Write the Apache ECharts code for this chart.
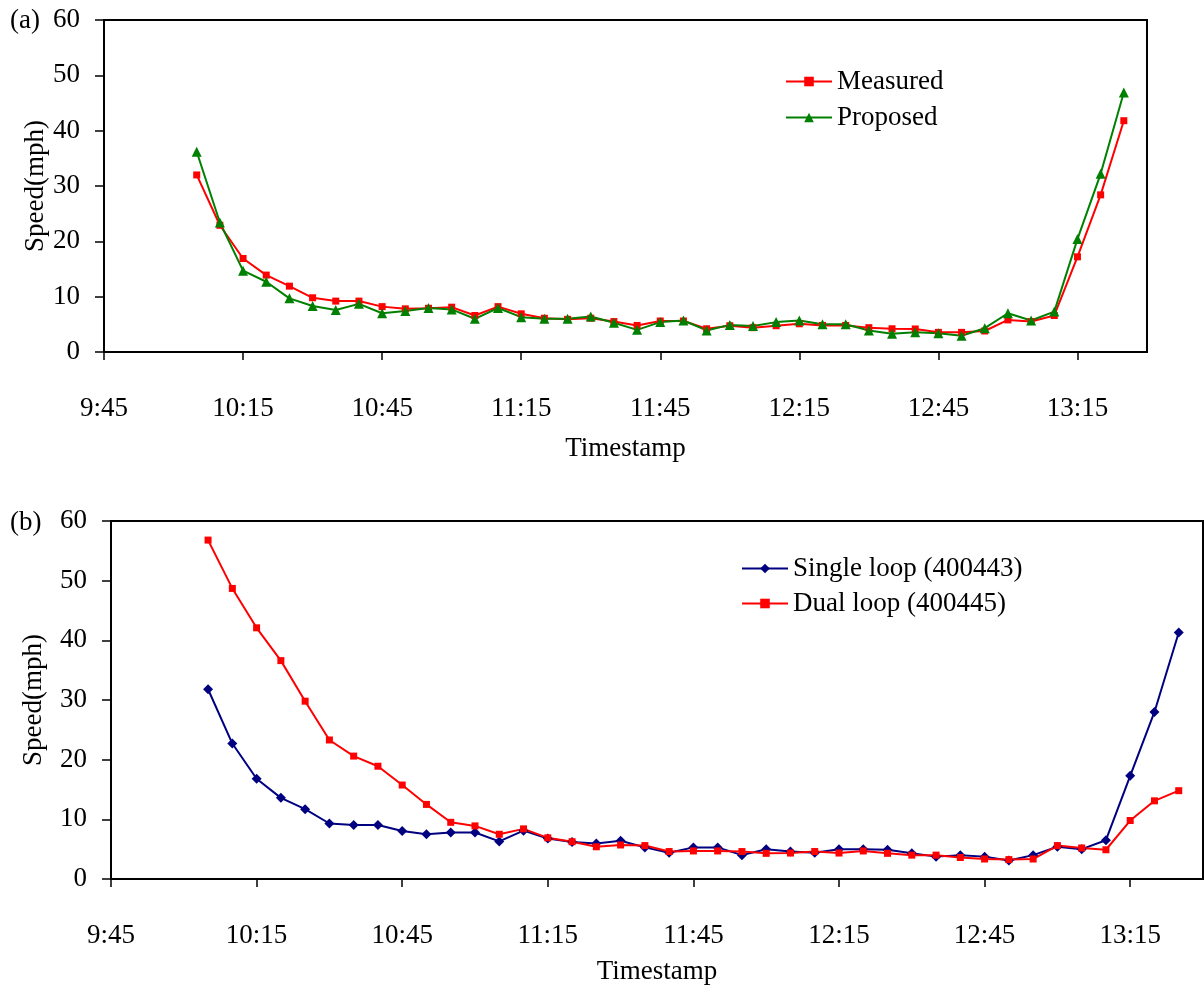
<!DOCTYPE html>
<html><head><meta charset="utf-8">
<script src="https://cdn.jsdelivr.net/npm/echarts@6/dist/echarts.min.js"></script>
<style>html,body{margin:0;padding:0;background:#fff}#c{width:1204px;height:987px}</style>
</head><body><div id="c"></div>
<script>
// ---- data ----
const times = ['10:05','10:10','10:15','10:20','10:25','10:30','10:35','10:40','10:45','10:50','10:55',
  '11:00','11:05','11:10','11:15','11:20','11:25','11:30','11:35','11:40','11:45','11:50','11:55',
  '12:00','12:05','12:10','12:15','12:20','12:25','12:30','12:35','12:40','12:45','12:50','12:55',
  '13:00','13:05','13:10','13:15','13:20','13:25'];
const tickLabels = ['9:45','10:15','10:45','11:15','11:45','12:15','12:45','13:15'];
const axisStart = '9:45';
const axisEnd = '13:30';
const yTicks = [0, 60, 10]; // min, max, step

const measured = [32.0,22.9,16.9,13.9,11.9,9.8,9.2,9.2,8.2,7.8,7.9,8.1,6.6,8.2,6.9,6.1,5.9,6.1,5.5,4.8,5.6,5.6,4.2,4.75,4.4,4.75,5.1,4.8,4.8,4.4,4.2,4.16,3.55,3.55,3.8,5.8,5.5,6.6,17.2,28.4,41.8];
const proposed = [36.2,23.4,14.7,12.7,9.7,8.3,7.6,8.7,7.0,7.4,7.95,7.7,6.0,7.95,6.3,6.0,6.0,6.4,5.3,4.0,5.4,5.7,3.9,4.9,4.7,5.4,5.7,5.0,5.0,3.9,3.3,3.55,3.4,2.95,4.3,7.0,5.7,7.3,20.4,32.2,46.9];
const singleLoop = [31.8,22.7,16.8,13.6,11.7,9.3,9.05,9.05,8.05,7.5,7.8,7.8,6.3,8.1,6.8,6.2,5.95,6.4,5.3,4.4,5.3,5.3,4.0,5.0,4.6,4.4,5.0,5.0,4.9,4.3,3.75,4.0,3.75,3.1,4.0,5.4,5.0,6.5,17.3,28.0,41.3];
const dualLoop = [56.8,48.7,42.1,36.6,29.8,23.3,20.6,18.9,15.75,12.5,9.5,8.9,7.5,8.4,6.9,6.25,5.4,5.7,5.6,4.6,4.7,4.7,4.6,4.3,4.35,4.6,4.35,4.7,4.3,4.0,4.0,3.6,3.35,3.25,3.35,5.6,5.2,4.9,9.8,13.1,14.8];

// ---- helpers ----
function toMin(s){ const p = s.split(':'); return (+p[0])*60 + (+p[1]); }
const tickVals = tickLabels.map(toMin);
function fmt(v){ const i = tickVals.indexOf(v); return i >= 0 ? tickLabels[i] : ''; }
function pts(arr){ return times.map((t,i)=>[toMin(t), arr[i]]); }

const FONT = 'Liberation Serif';
const txt = {color:'#000', fontFamily:FONT, fontSize:27};

function xAx(gi, margin, nameGap){
  return {
    gridIndex:gi, type:'value', min:toMin(axisStart), max:toMin(axisEnd),
    axisLine:{show:true, onZero:false, lineStyle:{color:'#000', width:2}},
    axisTick:{show:true, length:8, inside:false, customValues:tickVals, lineStyle:{color:'#000', width:1.5}},
    axisLabel:Object.assign({customValues:tickVals, formatter:fmt, margin:margin}, txt),
    splitLine:{show:false},
    name:'Timestamp', nameLocation:'middle', nameGap:nameGap, nameMoveOverlap:false, nameTextStyle:txt
  };
}
function yAx(gi, nameGap){
  return {
    gridIndex:gi, type:'value', min:yTicks[0], max:yTicks[1], interval:yTicks[2],
    axisLine:{show:true, lineStyle:{color:'#000', width:2}},
    axisTick:{show:true, length:9, lineStyle:{color:'#000', width:1.5}},
    axisLabel:Object.assign({margin:24}, txt),
    splitLine:{show:false},
    name:'Speed(mph)', nameLocation:'middle', nameGap:nameGap, nameMoveOverlap:false, nameTextStyle:txt
  };
}
function ser(name, arr, gi, color, symbol, size){
  return {
    name:name, type:'line', xAxisIndex:gi, yAxisIndex:gi, data:pts(arr),
    symbol:symbol, symbolSize:size, showSymbol:true,
    lineStyle:{color:color, width:2}, itemStyle:{color:color},
    emphasis:{disabled:true}, z:2
  };
}

const chart = echarts.init(document.getElementById('c'), null, {renderer:'canvas'});
chart.setOption({
  animation:false,
  backgroundColor:'#fff',
  grid:[
    {left:104, top:20, right:57, bottom:635, show:true, borderColor:'#000', borderWidth:2, containLabel:false},
    {left:111, top:521, right:1, bottom:108, show:true, borderColor:'#000', borderWidth:2, containLabel:false}
  ],
  xAxis:[xAx(0, 43, 83), xAx(1, 43, 79)],
  yAxis:[yAx(0, 55), yAx(1, 64)],
  legend:[
    {data:['Measured','Proposed'], orient:'vertical', left:785, top:68, itemWidth:46, itemHeight:12, itemGap:9, padding:0, textStyle:txt},
    {data:['Single loop (400443)','Dual loop (400445)'], orient:'vertical', left:741, top:555, itemWidth:46, itemHeight:12, itemGap:8, padding:0, textStyle:txt}
  ],
  graphic:[
    {type:'text', x:10, y:21, style:{text:'(a)', font:'27px "Liberation Serif"', fill:'#000', verticalAlign:'middle'}},
    {type:'text', x:10, y:523, style:{text:'(b)', font:'27px "Liberation Serif"', fill:'#000', verticalAlign:'middle'}}
  ],
  series:[
    ser('Measured', measured, 0, '#FF0000', 'rect', 7),
    ser('Proposed', proposed, 0, '#008000', 'triangle', 10),
    ser('Single loop (400443)', singleLoop, 1, '#000080', 'diamond', 10),
    ser('Dual loop (400445)', dualLoop, 1, '#FF0000', 'rect', 7)
  ]
});
</script>
</body></html>
